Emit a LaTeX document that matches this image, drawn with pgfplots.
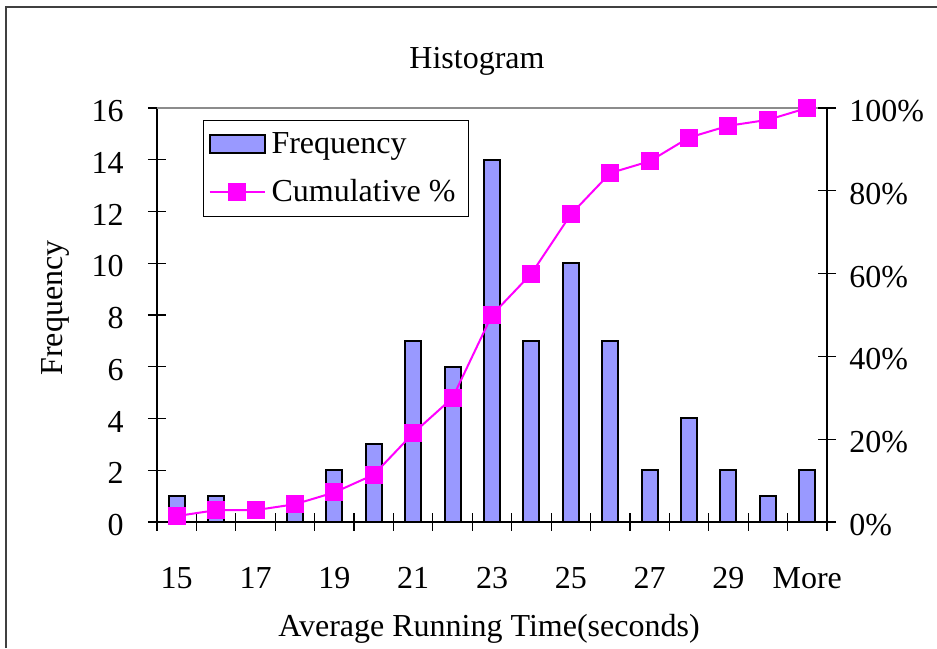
\documentclass[border=0pt]{standalone}
\usepackage{pgfplots}
\pgfplotsset{compat=1.18}
\usepackage{pgfplotstable}
\usepackage{fontspec}
\setmainfont{Liberation Serif}
\definecolor{barblue}{HTML}{9999FF}
\definecolor{mag}{HTML}{FF00FF}
\newcommand{\bigf}{\fontsize{16pt}{19pt}\selectfont}
\pgfplotsset{
  mylineleg/.style={legend image code/.code={\draw[##1, mark repeat=2, mark phase=2] plot coordinates {(0pt,0pt) (13.75pt,0pt) (27.5pt,0pt)};}},
  mybarleg/.style={legend image code/.code={\draw[fill=barblue, draw=black, line width=1pt] (0pt,-4.5pt) rectangle (27.5pt,4.5pt);}},
}
\pgfplotstableread{
x freq cum
0 1 1.43
1 1 2.86
2 0 2.86
3 1 4.29
4 2 7.14
5 3 11.43
6 7 21.43
7 6 30.00
8 14 50.00
9 7 60.00
10 10 74.29
11 7 84.29
12 2 87.14
13 4 92.86
14 2 95.71
15 1 97.14
16 2 100.00
}\data
\begin{document}
\begin{tikzpicture}
% outer frame
\draw[black!75, line width=1pt] (3pt,0pt) -- (3pt,320.5pt) -- (470pt,320.5pt);
\begin{axis}[
  at={(78.5pt,63pt)}, anchor=south west,
  width=335pt, height=207pt, scale only axis,
  xmin=-0.5, xmax=16.5, ymin=0, ymax=16,
  axis lines=left, axis line style={-, line width=0.8pt},
  ytick={0,2,...,16},
  xtick={-0.5,0.5,...,16.5},
  xticklabels={},
  extra x ticks={0,2,...,16},
  extra x tick labels={15,17,19,21,23,25,27,29,More},
  extra x tick style={major tick length=0pt, grid=none},
  tick align=center,
  major tick length=9pt,
  every tick/.style={line width=0.6pt, black},
  /pgf/number format/assume math mode=true,
  tick label style={font=\bigf},
  yticklabel style={anchor=east, inner sep=0pt, xshift=-12pt, yshift=-1.5pt},
  xticklabel style={anchor=base, inner sep=0pt, yshift=-33.5pt},
  title={Histogram},
  title style={font=\bigf, at={(axis description cs:0.4776,1.0846)}, anchor=center},
  xlabel={Average Running Time(seconds)},
  xlabel style={font=\bigf, at={(axis description cs:0.4955,-0.258)}, anchor=center},
  ylabel={Frequency},
  ylabel style={font=\bigf, at={(axis description cs:-0.152,0.517)}, anchor=center},
]
\addplot[ybar, bar width=8pt, fill=barblue, draw=black, line width=1pt] table[x=x, y=freq] {\data};
\draw[black!45, line width=1pt] (axis description cs:0,1) -- (axis description cs:1,1);
\end{axis}
\begin{axis}[
  at={(78.5pt,63pt)}, anchor=south west,
  width=335pt, height=207pt, scale only axis,
  xmin=-0.5, xmax=16.5, ymin=0, ymax=100,
  axis x line=none, axis y line*=right,
  axis line style={-, line width=0.8pt},
  ytick={0,20,...,100},
  yticklabel={\pgfmathprintnumber{\tick}\%},
  tick align=center, major tick length=9pt,
  every tick/.style={line width=0.6pt, black},
  /pgf/number format/assume math mode=true,
  tick label style={font=\bigf},
  yticklabel style={anchor=west, inner sep=0pt, xshift=6.5pt, yshift=-1.5pt},
  legend style={at={(axis description cs:0.0687,0.971)}, anchor=north west,
    draw=black, line width=0.5pt, font=\bigf, inner xsep=2.5pt, inner ysep=4pt,
    row sep=7.5pt, nodes={inner xsep=1pt, inner ysep=2pt}},
  legend cell align=left,
]
\addlegendimage{mybarleg}
\addlegendentry{\hspace*{2pt}Frequency}
\addplot[mag, line width=1pt, mark=square*, mark size=4pt, mark options={fill=mag, draw=mag}, mylineleg]
  table[x=x, y=cum] {\data};
\addlegendentry{\hspace*{2pt}Cumulative \%\hspace*{3pt}}
\end{axis}
\pgfresetboundingbox
\useasboundingbox (0,0) rectangle (468.5pt,324pt);
\end{tikzpicture}
\end{document}
